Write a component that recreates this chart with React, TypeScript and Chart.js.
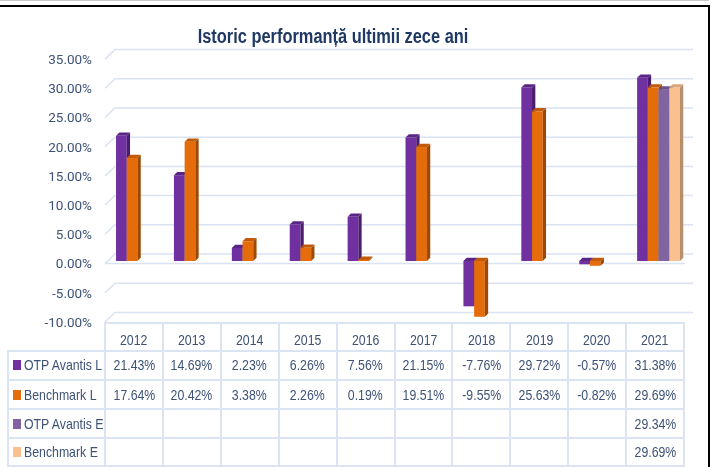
import React, { useEffect, useRef } from "react";
import { Chart, registerables } from "chart.js";

Chart.register(...registerables);

// ---------- data ----------
const years = ["2012", "2013", "2014", "2015", "2016", "2017", "2018", "2019", "2020", "2021"];
const otpAvantisL = [21.43, 14.69, 2.23, 6.26, 7.56, 21.15, -7.76, 29.72, -0.57, 31.38];
const benchmarkL = [17.64, 20.42, 3.38, 2.26, 0.19, 19.51, -9.55, 25.63, -0.82, 29.69];
const otpAvantisE = [null, null, null, null, null, null, null, null, null, 29.34];
const benchmarkE = [null, null, null, null, null, null, null, null, null, 29.69];
const seriesNames = ["OTP Avantis L", "Benchmark L", "OTP Avantis E", "Benchmark E"];
const yMin = -10;
const yMax = 35;
const yStep = 5;
const titleText = "Istoric performanță ultimii zece ani";

// ---------- styles ----------
const FONT = "'Liberation Sans', Arial, sans-serif";
const TICK_FONT = "Roboto, 'Liberation Sans', sans-serif";
const NARROW = 0.82;
const TEXT = "#3e5276";
const TITLE = "#1f3864";
const GRID = "#d9e3f4";
const LINE = "#dbe4f3";
const fronts = ["#7030a0", "#e46c0a", "#8064a2", "#fac090"];
const tops = ["#5a2586", "#c25a08", "#6c548c", "#dca67a"];
const sides = ["#4a1d6e", "#9c4806", "#584670", "#b88f6c"];
const DEPTH = 3.3;

const fmt = (v: number | null) => (v == null ? "" : v.toFixed(2) + "%");

const bar3dPlugin = {
  id: "bar3d",
  beforeDatasetsDraw(chart: any) {
    const ctx = chart.ctx;
    const ys = chart.scales.y;
    const ca = chart.chartArea;
    ctx.save();
    // back wall gridlines with slanted floor edge
    ctx.strokeStyle = GRID;
    ctx.lineWidth = 1.5;
    ys.ticks.forEach((t: any) => {
      const py = ys.getPixelForValue(t.value);
      ctx.beginPath();
      ctx.moveTo(ca.left - 3.5, py + 2.5);
      ctx.lineTo(ca.left + 6.5, py - 7);
      ctx.lineTo(ca.right + 5.5, py - 7);
      ctx.stroke();
    });
    const p0 = ys.getPixelForValue(0);
    ctx.beginPath();
    ctx.moveTo(ca.left - 3.5, p0 + 2.5);
    ctx.lineTo(ca.right - 2.5, p0 + 2.5);
    ctx.stroke();

    // 3D bars
    chart.data.datasets.forEach((ds: any, i: number) => {
      const meta = chart.getDatasetMeta(i);
      meta.data.forEach((el: any, j: number) => {
        const v = ds.data[j];
        if (v == null) return;
        const { x, y, base, width } = el.getProps(["x", "y", "base", "width"], true);
        const l = x - width / 2;
        const r = x + width / 2;
        const top = Math.min(y, base);
        const bot = Math.max(y, base);
        const d = DEPTH;
        ctx.fillStyle = fronts[i];
        ctx.fillRect(l, top, width, bot - top);
        ctx.fillStyle = sides[i];
        ctx.beginPath();
        ctx.moveTo(r, top);
        ctx.lineTo(r + d, top - d);
        ctx.lineTo(r + d, bot - d);
        ctx.lineTo(r, bot);
        ctx.closePath();
        ctx.fill();
        ctx.fillStyle = tops[i];
        ctx.beginPath();
        ctx.moveTo(l, top);
        ctx.lineTo(l + d, top - d);
        ctx.lineTo(r + d, top - d);
        ctx.lineTo(r, top);
        ctx.closePath();
        ctx.fill();
      });
    });

    // title (condensed)
    ctx.fillStyle = TITLE;
    ctx.font = `bold 20px ${FONT}`;
    ctx.textAlign = "center";
    ctx.textBaseline = "alphabetic";
    ctx.translate(333, 43.3);
    ctx.scale(NARROW, 1);
    ctx.fillText(titleText, 0, 0);
    ctx.restore();
    return false;
  },
};

const seriesData = [otpAvantisL, benchmarkL, otpAvantisE, benchmarkE];

// table geometry
const COL_X0 = 105;
const COL_W = 57.9;
const TABLE_LEFT = 7.5;
const ROW_Y = [323, 350.5, 380, 409, 438, 466];

export default function App() {
  const canvasRef = useRef<HTMLCanvasElement | null>(null);

  useEffect(() => {
    const canvas = canvasRef.current;
    if (!canvas) return;
    const chart = new Chart(canvas, {
      type: "bar",
      data: {
        labels: years,
        datasets: seriesNames.map((name, i) => ({
          label: name,
          data: seriesData[i] as any,
          backgroundColor: fronts[i],
          categoryPercentage: 0.74,
          barPercentage: 1,
        })),
      },
      options: {
        responsive: false,
        animation: false,
        layout: { padding: { left: 0, right: 23.5, top: 56.6, bottom: 467 - 319.4 } },
        plugins: {
          legend: { display: false },
          title: { display: false },
          tooltip: { enabled: false },
        },
        scales: {
          x: { display: false },
          y: {
            min: yMin,
            max: yMax,
            afterFit: (s: any) => {
              s.width = 108.5;
            },
            ticks: {
              stepSize: yStep,
              callback: (v: any) => Number(v).toFixed(2) + "%",
              color: TEXT,
              font: { family: TICK_FONT, size: 13.5 },
              padding: 16.5,
              labelOffset: 4,
            },
            grid: { display: false, drawTicks: false },
            border: { display: false },
          },
        },
      },
      plugins: [bar3dPlugin],
    });
    return () => chart.destroy();
  }, []);

  const abs = (s: React.CSSProperties): React.CSSProperties => ({ position: "absolute", ...s });
  const lines: React.ReactNode[] = [];
  lines.push(<div key="h0" style={abs({ left: COL_X0 - 1, top: ROW_Y[0] - 1, width: COL_W * 10 + 2, height: 2, background: LINE })} />);
  for (let r = 1; r < ROW_Y.length; r++) {
    lines.push(
      <div key={"h" + r} style={abs({ left: TABLE_LEFT - 1, top: ROW_Y[r] - 1, width: COL_X0 + COL_W * 10 - TABLE_LEFT + 2, height: 2, background: LINE })} />
    );
  }
  lines.push(<div key="v-left" style={abs({ left: TABLE_LEFT - 1, top: ROW_Y[1] - 1, width: 2, height: ROW_Y[5] - ROW_Y[1] + 2, background: LINE })} />);
  for (let c = 0; c <= 10; c++) {
    lines.push(
      <div key={"v" + c} style={abs({ left: COL_X0 + c * COL_W - 1, top: ROW_Y[0] - 1, width: 2, height: ROW_Y[5] - ROW_Y[0] + 2, background: LINE })} />
    );
  }

  const cellText: React.CSSProperties = {
    fontFamily: FONT,
    fontSize: 15,
    color: TEXT,
    lineHeight: "18px",
    whiteSpace: "nowrap",
  };
  const squeezeC: React.CSSProperties = { display: "inline-block", transform: `scaleX(${NARROW})`, transformOrigin: "50% 50%" };
  const squeezeL: React.CSSProperties = { display: "inline-block", transform: `scaleX(${NARROW})`, transformOrigin: "0% 50%" };

  const cells: React.ReactNode[] = [];
  years.forEach((yr, c) => {
    cells.push(
      <div key={"y" + c} style={abs({ ...cellText, left: COL_X0 + c * COL_W, top: 340 - 9, width: COL_W, textAlign: "center" })}>
        <span style={squeezeC}>{yr}</span>
      </div>
    );
  });
  seriesNames.forEach((name, r) => {
    const mid = (ROW_Y[r + 1] + ROW_Y[r + 2]) / 2;
    cells.push(
      <div key={"k" + r} style={abs({ left: 12.5, top: mid - 5, width: 8, height: 10, background: fronts[r] })} />
    );
    cells.push(
      <div key={"n" + r} style={abs({ ...cellText, left: 24, top: mid - 9 })}>
        <span style={squeezeL}>{name}</span>
      </div>
    );
    seriesData[r].forEach((v, c) => {
      cells.push(
        <div key={"c" + r + "-" + c} style={abs({ ...cellText, left: COL_X0 + c * COL_W, top: mid - 9, width: COL_W, textAlign: "center" })}>
          <span style={squeezeC}>{fmt(v as number | null)}</span>
        </div>
      );
    });
  });

  return (
    <div style={abs({ left: 0, top: 0, width: 711, height: 467, background: "#ffffff", overflow: "hidden" })}>
      <canvas ref={canvasRef} width={711} height={467} style={abs({ left: 0, top: 0, width: 711, height: 467 })} />
      {lines}
      {cells}
      <div style={abs({ left: 0, top: 0, width: 709, height: 1, background: "#c8c8c8" })} />
      <div style={abs({ left: 0, top: 5, width: 710, height: 2, background: "#000" })} />
      <div style={abs({ left: 708, top: 5, width: 2, height: 462, background: "#000" })} />
    </div>
  );
}
